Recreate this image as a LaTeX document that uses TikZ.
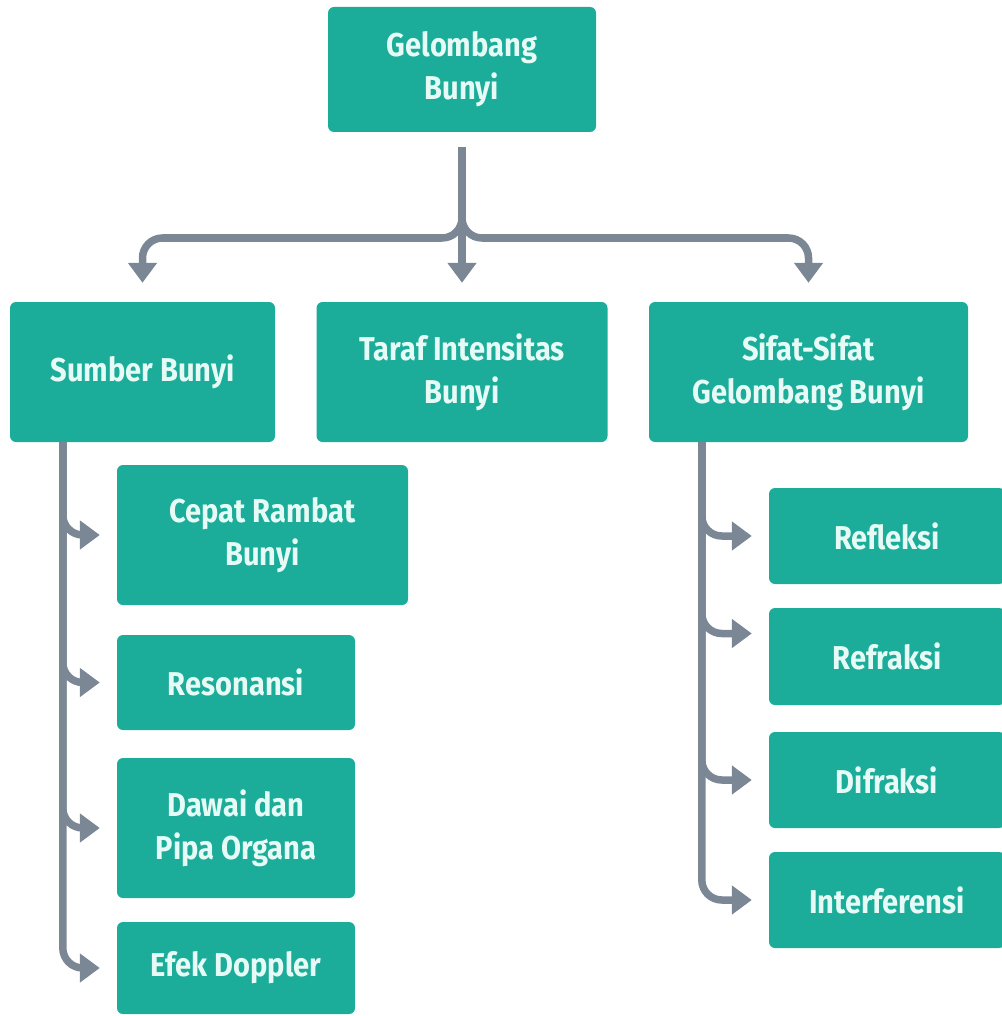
\documentclass[tikz,border=0pt]{standalone}
\usepackage{fontspec}
\setmainfont[FakeStretch=0.88]{Fira Sans}
\usetikzlibrary{arrows.meta}
\definecolor{boxteal}{HTML}{1BAD99}
\definecolor{boxtext}{HTML}{E6FBF5}
\definecolor{conngray}{HTML}{7C8796}
\begin{document}
\begin{tikzpicture}[x=1pt,y=-1pt,
  box/.style={fill=boxteal, rounded corners=6pt, text=boxtext, align=center,
    inner sep=0pt, font=\fontsize{33}{43}\selectfont\bfseries},
  conn/.style={draw=conngray, line width=7.5pt,
    -{Triangle[width=28pt,length=20pt]}},
  branch/.style={conn, rounded corners=20pt}]
\useasboundingbox (0,0) rectangle (1001,1016);
% nodes
\node[box, minimum width=268pt, minimum height=125pt] (top) at (462,69.5) {Gelombang\\Bunyi};
\node[box, minimum width=265pt, minimum height=140pt] (sumber) at (142.5,372) {Sumber Bunyi};
\node[box, minimum width=291pt, minimum height=140pt] (taraf) at (462,372) {Taraf Intensitas\\Bunyi};
\node[box, minimum width=319pt, minimum height=140pt] (sifat) at (808.5,372) {Sifat-Sifat\\Gelombang Bunyi};
\node[box, minimum width=291pt, minimum height=140pt] (cepat) at (262.5,535) {Cepat Rambat\\Bunyi};
\node[box, minimum width=238pt, minimum height=95pt] (reson) at (236,682.5) {Resonansi};
\node[box, minimum width=238pt, minimum height=140pt] (dawai) at (236,828) {Dawai dan\\Pipa Organa};
\node[box, minimum width=238pt, minimum height=92pt] (efek) at (236,968) {Efek Doppler};
\node[box, minimum width=236pt, minimum height=96pt] (refleksi) at (887,536) {Refleksi};
\node[box, minimum width=236pt, minimum height=97pt] (refraksi) at (887,656.5) {Refraksi};
\node[box, minimum width=236pt, minimum height=96pt] (difraksi) at (887,780) {Difraksi};
\node[box, minimum width=236pt, minimum height=96pt] (interf) at (887,900) {Interferensi};
% top connectors
\coordinate (j) at (462,238);
\coordinate (tstart) at ([yshift=-15pt]top.south);
\draw[branch] (tstart) -- (j) -- (j -| sumber.north) -- ([yshift=19pt]sumber.north);
\draw[branch] (tstart) -- (j) -- (j -| sifat.north) -- ([yshift=19pt]sifat.north);
\draw[conn] (tstart) -- ([yshift=19pt]taraf.north);
% left branch
\coordinate (ls) at ([xshift=53pt]sumber.south west);
\foreach \c in {cepat,reson,dawai,efek}
  \draw[branch] (ls) |- ([xshift=-17pt]\c.west);
% right branch
\coordinate (rs) at ([xshift=53pt]sifat.south west);
\draw[branch] (rs) |- ([xshift=-17pt]refleksi.west);
\draw[branch] (rs) |- ([xshift=-17pt,yshift=23pt]refraksi.west);
\draw[branch] (rs) |- ([xshift=-17pt]difraksi.west);
\draw[branch] (rs) |- ([xshift=-17pt]interf.west);
\end{tikzpicture}
\end{document}
